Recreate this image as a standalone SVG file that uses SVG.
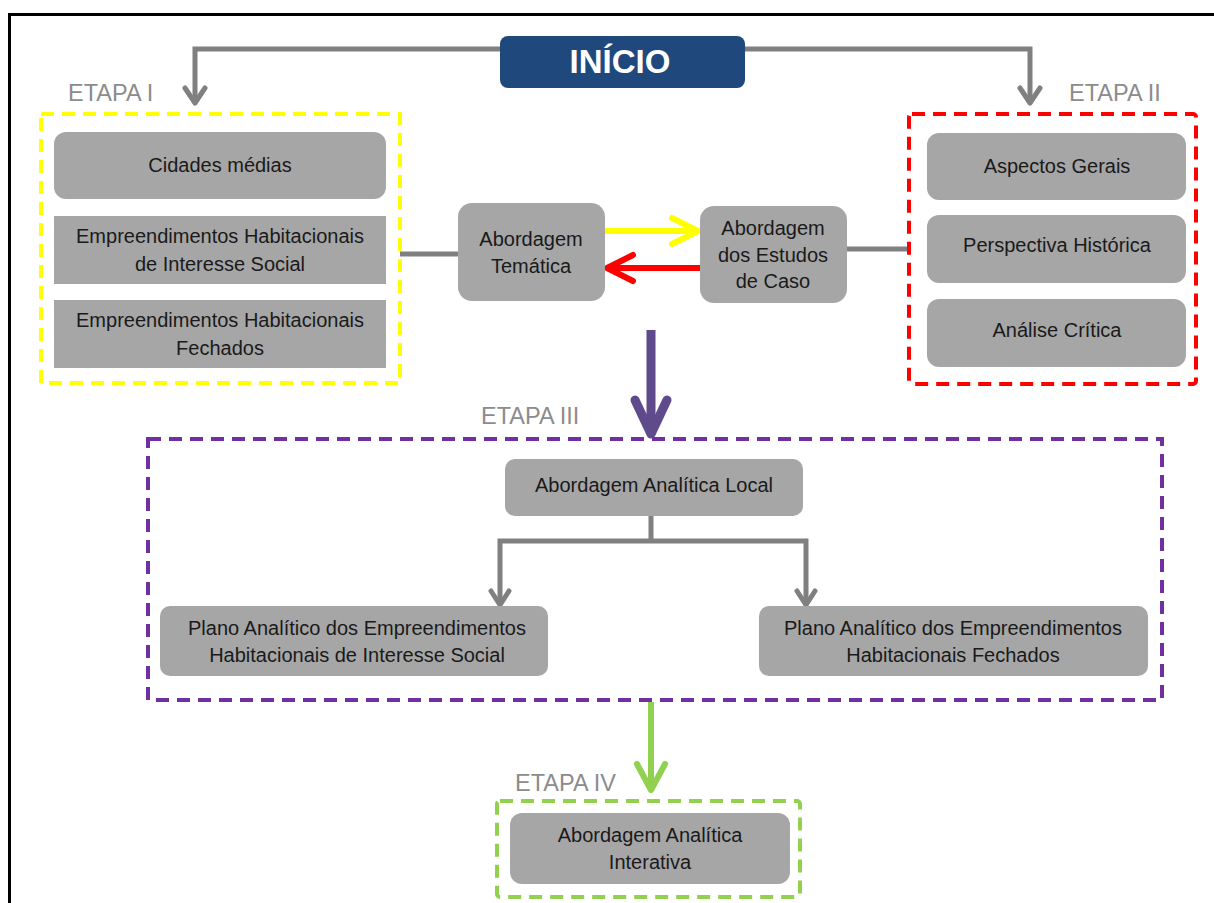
<svg xmlns="http://www.w3.org/2000/svg" width="1214" height="903" viewBox="0 0 1214 903">
<defs>
<style>
.box{fill:#A6A6A6;}
.t{font-family:"Liberation Sans",Arial,sans-serif;font-size:20px;fill:#1a1a1a;text-anchor:middle;}
.lbl{font-family:"Liberation Sans",Arial,sans-serif;font-size:23.5px;fill:#8C8C8C;}
.g{fill:none;stroke:#808080;stroke-width:5;}
.dash{fill:none;stroke-width:4;stroke-dasharray:13 8;}
</style>
</defs>
<rect x="0" y="0" width="1214" height="903" fill="#ffffff"/>
<path d="M9.5 903 V14.5 H1214" fill="none" stroke="#000" stroke-width="3"/>

<g id="connectors">
<path class="g" d="M195 103 V49 H500 M745 49 H1030 V103"/>
<path d="M185 88 L195 103 L205 88" fill="none" stroke="#808080" stroke-width="5" stroke-linecap="round" stroke-linejoin="round"/>
<path d="M1020 88 L1030 103 L1040 88" fill="none" stroke="#808080" stroke-width="5" stroke-linecap="round" stroke-linejoin="round"/>
<path class="g" d="M400 254 H458"/>
<path class="g" d="M847 249 H910"/>
<path d="M605 231 H698" stroke="#FFFF00" stroke-width="6" fill="none"/>
<path d="M672 218 L698 231 L672 244" fill="none" stroke="#FFFF00" stroke-width="6" stroke-linecap="round" stroke-linejoin="round"/>
<path d="M700 268 H608" stroke="#FF0000" stroke-width="6" fill="none"/>
<path d="M633 255 L607 268 L633 281" fill="none" stroke="#FF0000" stroke-width="6" stroke-linecap="round" stroke-linejoin="round"/>
<path d="M651 330 V432" stroke="#5F4B8B" stroke-width="9" fill="none"/>
<path d="M635 400 L651 434 L667 400" fill="none" stroke="#5F4B8B" stroke-width="9" stroke-linecap="round" stroke-linejoin="round"/>
<path class="g" d="M651 516 V541 M500 603 V541 H806 V603"/>
<path d="M491 591 L500 605 L509 591" fill="none" stroke="#808080" stroke-width="5" stroke-linecap="round" stroke-linejoin="round"/>
<path d="M797 591 L806 605 L815 591" fill="none" stroke="#808080" stroke-width="5" stroke-linecap="round" stroke-linejoin="round"/>
<path d="M651 702 V788" stroke="#92D050" stroke-width="6" fill="none"/>
<path d="M637 764 L651 790 L665 764" fill="none" stroke="#92D050" stroke-width="6" stroke-linecap="round" stroke-linejoin="round"/>
</g>

<g id="inicio">
<rect x="500" y="36" width="245" height="52" rx="8" fill="#1F497D"/>
<text x="620" y="73" font-family="Liberation Sans,Arial,sans-serif" font-size="33" font-weight="bold" fill="#ffffff" text-anchor="middle">INÍCIO</text>
</g>

<g id="etapa1">
<text class="lbl" x="68" y="101">ETAPA I</text>
<rect class="dash" x="41" y="114" width="359" height="269" stroke="#FFFF00"/>
</g>
<g id="cidades"><rect class="box" x="54" y="132" width="332" height="67" rx="12"/><text class="t" x="220" y="172">Cidades médias</text></g>
<g id="ehis"><rect class="box" x="54" y="216" width="332" height="68"/><text class="t" x="220" y="243">Empreendimentos Habitacionais</text><text class="t" x="220" y="271">de Interesse Social</text></g>
<g id="ehf"><rect class="box" x="54" y="300" width="332" height="68"/><text class="t" x="220" y="327">Empreendimentos Habitacionais</text><text class="t" x="220" y="355">Fechados</text></g>

<g id="tematica"><rect class="box" x="458" y="203" width="147" height="98" rx="14"/><text class="t" x="531" y="246">Abordagem</text><text class="t" x="531" y="273">Temática</text></g>
<g id="estudos"><rect class="box" x="700" y="206" width="147" height="97" rx="14"/><text class="t" x="773" y="235">Abordagem</text><text class="t" x="773" y="262">dos Estudos</text><text class="t" x="773" y="288">de Caso</text></g>

<g id="etapa2">
<text class="lbl" x="1069" y="101">ETAPA II</text>
<rect class="dash" x="909" y="114" width="287" height="270" rx="3" stroke="#FF0000"/>
</g>
<g id="aspectos"><rect class="box" x="927" y="133" width="259" height="67" rx="12"/><text class="t" x="1057" y="173">Aspectos Gerais</text></g>
<g id="perspectiva"><rect class="box" x="927" y="215" width="259" height="68" rx="12"/><text class="t" x="1057" y="252">Perspectiva Histórica</text></g>
<g id="analise"><rect class="box" x="927" y="299" width="259" height="68" rx="12"/><text class="t" x="1057" y="337">Análise Crítica</text></g>

<g id="etapa3">
<text class="lbl" x="481" y="424">ETAPA III</text>
<rect class="dash" x="148" y="439" width="1014" height="261" stroke="#7030A0"/>
</g>
<g id="local"><rect class="box" x="505" y="459" width="298" height="57" rx="10"/><text class="t" x="654" y="492">Abordagem Analítica Local</text></g>
<g id="planoais"><rect class="box" x="160" y="606" width="388" height="70" rx="10"/><text class="t" x="357" y="635">Plano Analítico dos Empreendimentos</text><text class="t" x="357" y="662">Habitacionais de Interesse Social</text></g>
<g id="planof"><rect class="box" x="759" y="606" width="389" height="70" rx="10"/><text class="t" x="953" y="635">Plano Analítico dos Empreendimentos</text><text class="t" x="953" y="662">Habitacionais Fechados</text></g>

<g id="etapa4">
<text class="lbl" x="515" y="791">ETAPA IV</text>
<rect class="dash" x="497" y="801" width="303" height="96" rx="3" stroke="#92D050"/>
</g>
<g id="interativa"><rect class="box" x="510" y="813" width="280" height="71" rx="12"/><text class="t" x="650" y="842">Abordagem Analítica</text><text class="t" x="650" y="869">Interativa</text></g>
</svg>
